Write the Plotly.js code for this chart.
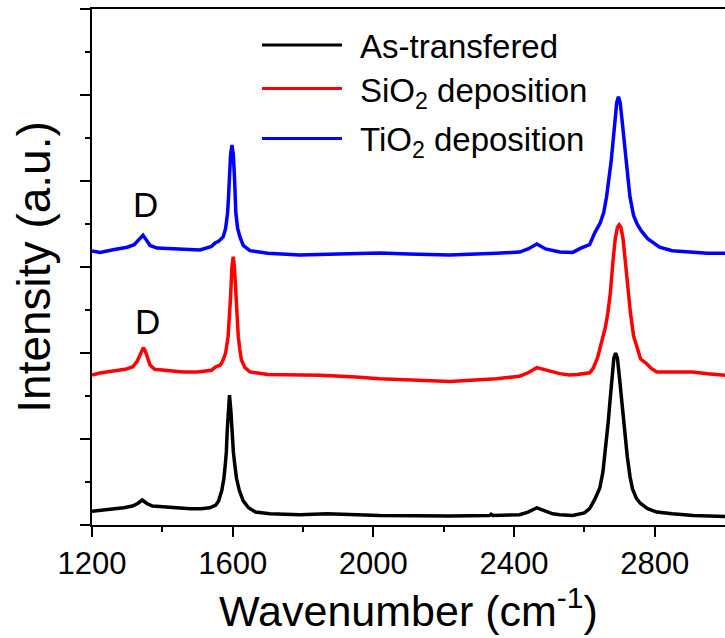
<!DOCTYPE html>
<html>
<head>
<meta charset="utf-8">
<script src="https://cdn.plot.ly/plotly-3.0.1.min.js"></script>
<style>html,body{margin:0;padding:0;background:#fff;}#chart{width:725px;height:638px;}</style>
</head>
<body>
<div id="chart"></div>
<script>
// Series names
const seriesNames = ['As-transfered', 'SiO<sub>2</sub> deposition', 'TiO<sub>2</sub> deposition'];
const seriesColors = ['#000000', '#ff0000', '#0000ff'];

// As-transfered (black)
const xAs = [1200,1250,1290,1315,1330,1343,1356,1372,1400,1440,1480,1510,1535,1552,1560,1569,1575,1579,1582,1584.5,1587,1591,1595,1598,1602,1606,1611,1619,1630,1645,1665,1706,1791,1868,1950,2018,2217,2330,2335,2340,2416,2440,2465,2485,2510,2530,2567,2600,2615,2630,2644,2653,2661,2668,2674,2679,2684,2689,2694,2699,2705,2711,2716,2722,2730,2737,2748,2760,2780,2806,2850,2910,3000];
const yAs = [0.16,0.18,0.20,0.22,0.25,0.29,0.25,0.22,0.21,0.20,0.19,0.19,0.20,0.23,0.28,0.40,0.54,0.70,0.85,1.10,1.32,1.51,1.32,1.10,0.85,0.70,0.54,0.40,0.28,0.20,0.15,0.13,0.12,0.13,0.12,0.11,0.105,0.11,0.125,0.11,0.12,0.15,0.20,0.17,0.13,0.12,0.11,0.14,0.19,0.30,0.43,0.62,0.90,1.20,1.49,1.75,1.94,2.00,1.94,1.75,1.48,1.20,0.98,0.80,0.56,0.42,0.31,0.25,0.19,0.15,0.13,0.11,0.10];

// SiO2 deposition (red)
const xSi = [1200,1223,1260,1295,1316,1328,1336,1341,1346,1351,1357,1365,1378,1400,1459,1500,1540,1552,1558,1565,1573,1580,1587,1591,1594,1598,1601.5,1605,1609,1612,1616,1620,1625,1635,1649,1700,1791,1850,1950,2018,2217,2350,2416,2440,2465,2490,2530,2558,2580,2615,2625,2638,2652,2660,2667,2674,2681,2688,2694,2699,2704,2710,2717,2724,2731,2740,2750,2760,2776,2790,2806,2850,2908,2950,3000];
const ySi = [1.744,1.767,1.79,1.81,1.84,1.90,1.97,2.03,2.06,2.03,1.95,1.86,1.81,1.80,1.78,1.78,1.80,1.84,1.85,1.86,1.92,2.00,2.19,2.40,2.65,3.00,3.12,3.00,2.65,2.40,2.19,2.05,1.92,1.83,1.78,1.75,1.744,1.74,1.72,1.70,1.67,1.70,1.73,1.77,1.83,1.80,1.76,1.745,1.75,1.77,1.82,1.95,2.15,2.30,2.47,2.70,3.05,3.33,3.46,3.49,3.46,3.33,3.05,2.70,2.47,2.20,2.05,1.93,1.88,1.82,1.78,1.78,1.78,1.76,1.74];

// TiO2 deposition (blue)
const xTi = [1200,1223,1260,1300,1320,1333,1340,1345,1352,1365,1385,1430,1507,1540,1550,1560,1573,1580,1585.6,1588,1590,1594,1598,1602,1605.5,1607,1609,1614,1620.6,1630,1649,1700,1791,1900,2018,2100,2217,2350,2416,2440,2465,2490,2530,2567,2590,2615,2630,2645,2655,2663,2670,2676,2681.5,2687,2692,2697,2702,2707,2714,2720,2725,2730,2740,2750,2762,2780,2814,2850,2900,2950,3000];
const yTi = [3.186,3.17,3.20,3.23,3.26,3.31,3.35,3.37,3.33,3.25,3.22,3.21,3.198,3.24,3.28,3.30,3.35,3.45,3.63,3.80,4.01,4.30,4.42,4.30,4.01,3.80,3.63,3.45,3.35,3.25,3.19,3.16,3.14,3.15,3.163,3.15,3.14,3.16,3.174,3.21,3.267,3.21,3.174,3.17,3.22,3.26,3.40,3.51,3.63,3.81,4.00,4.22,4.45,4.72,4.91,4.98,4.91,4.72,4.40,4.20,4.00,3.81,3.60,3.50,3.42,3.33,3.23,3.19,3.17,3.16,3.16];

// Axis ticks
const xTickVals = [1200, 1600, 2000, 2400, 2800];
const xTickText = ['1200', '1600', '2000', '2400', '2800'];

// Peak labels
const peakLabels = ['D', 'D'];

const xs = [xAs, xSi, xTi];
const ys = [yAs, ySi, yTi];
const traces = xs.map((x, i) => ({
  type: 'scatter', mode: 'lines', x: x, y: ys[i], name: seriesNames[i],
  line: {color: seriesColors[i], width: 3.5}, hoverinfo: 'skip'
}));

const FONT = 'Liberation Sans, Arial, Helvetica, sans-serif';

// Manual legend (long line samples)
const legY = [0.930, 0.846, 0.749];
const legTextY = [0.928, 0.838, 0.742];
const shapes = legY.map((yy, i) => ({
  type: 'line', xref: 'paper', yref: 'paper', x0: 0.2686, x1: 0.3949, y0: yy, y1: yy,
  line: {color: seriesColors[i], width: 3}
}));
const annotations = seriesNames.map((nm, i) => ({
  xref: 'paper', yref: 'paper', x: 0.4202, y: legTextY[i], xanchor: 'left', yanchor: 'middle',
  text: nm, showarrow: false, font: {family: FONT, size: 33, color: '#000'}
}));
annotations.push({xref: 'x', yref: 'y', x: 1353, y: 3.73, text: peakLabels[0], showarrow: false,
  xanchor: 'center', yanchor: 'middle', font: {family: FONT, size: 35, color: '#000'}});
annotations.push({xref: 'x', yref: 'y', x: 1357, y: 2.37, text: peakLabels[1], showarrow: false,
  xanchor: 'center', yanchor: 'middle', font: {family: FONT, size: 35, color: '#000'}});

const layout = {
  width: 725, height: 638,
  margin: {l: 92, r: 0, t: 9, b: 113, pad: 0},
  paper_bgcolor: '#ffffff', plot_bgcolor: '#ffffff',
  showlegend: false,
  font: {family: FONT, color: '#000'},
  xaxis: {
    range: [1200, 3000], tickmode: 'array', tickvals: xTickVals, ticktext: xTickText,
    ticks: 'outside', ticklen: 10, tickwidth: 2, tickcolor: '#000',
    showline: true, linewidth: 2, linecolor: '#000', mirror: true,
    showgrid: false, zeroline: false,
    tickfont: {family: FONT, size: 31, color: '#000'},
    minor: {tickmode: 'array', tickvals: [1400, 1800, 2200, 2600], ticks: 'outside', ticklen: 5, tickwidth: 2, tickcolor: '#000', showgrid: false},
    title: {text: 'Wavenumber (cm<sup>-1</sup>)', font: {family: FONT, size: 43, color: '#000'}, standoff: 7}
  },
  yaxis: {
    range: [0, 6], tickmode: 'linear', tick0: 0, dtick: 1, showticklabels: false,
    ticks: 'outside', ticklen: 10, tickwidth: 2, tickcolor: '#000',
    showline: true, linewidth: 2, linecolor: '#000', mirror: false,
    showgrid: false, zeroline: false,
    minor: {tickmode: 'linear', tick0: 0.5, dtick: 1, ticks: 'outside', ticklen: 5, tickwidth: 2, tickcolor: '#000', showgrid: false},
    title: {text: 'Intensity (a.u.)', font: {family: FONT, size: 46, color: '#000'}, standoff: 15}
  },
  shapes: shapes,
  annotations: annotations
};

Plotly.newPlot('chart', traces, layout, {staticPlot: true, displayModeBar: false});
</script>
</body>
</html>
